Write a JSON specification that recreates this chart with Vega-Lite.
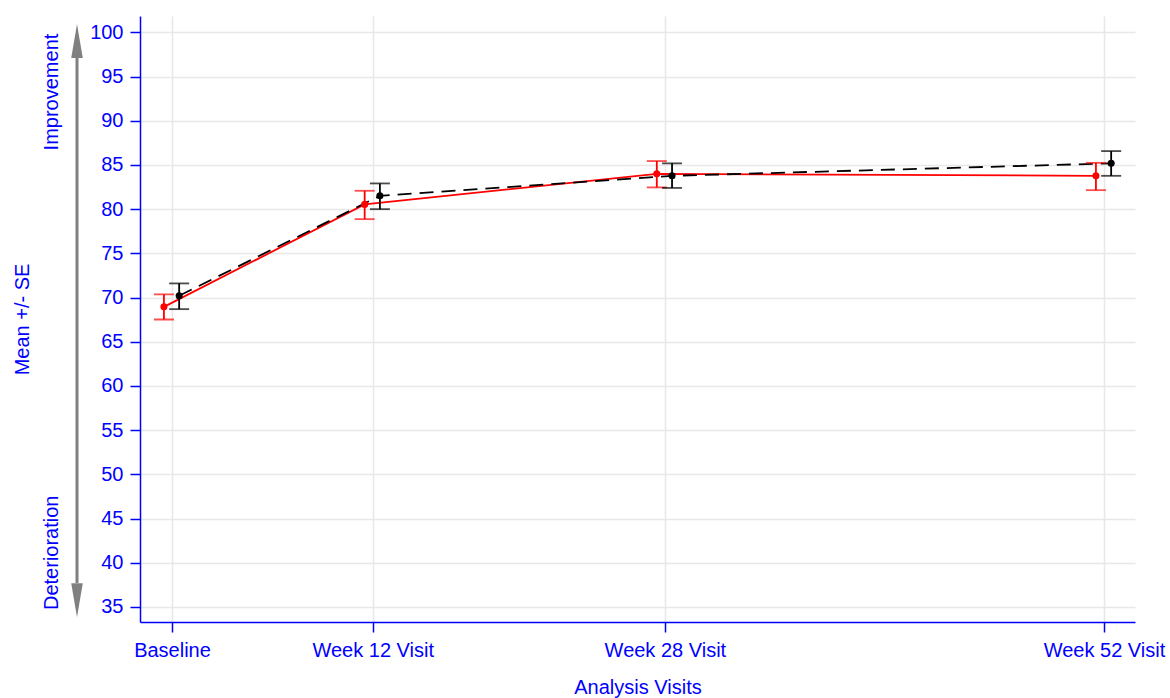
{
  "$schema": "https://vega.github.io/schema/vega-lite/v6.json",
  "width": 995,
  "height": 606,
  "autosize": {"type": "none"},
  "padding": {"left": 140, "top": 16, "right": 35, "bottom": 76},
  "background": "white",
  "config": {
    "view": {"stroke": null},
    "font": "Liberation Sans",
    "axis": {
      "domainColor": "#0000ff",
      "domainWidth": 1.5,
      "tickColor": "#0000ff",
      "tickWidth": 1.5,
      "tickSize": 10,
      "labelColor": "#0000ff",
      "labelFont": "Liberation Sans",
      "labelFontSize": 20,
      "titleColor": "#0000ff",
      "titleFont": "Liberation Sans",
      "titleFontSize": 20,
      "titleFontWeight": "normal",
      "gridColor": "#e8e8e8",
      "gridWidth": 1.5
    }
  },
  "datasets": {
    "stats": [
      {"group": "A", "visit": "Baseline", "x": -0.45, "mean": 68.95, "lo": 67.52, "hi": 70.35},
      {"group": "A", "visit": "Week 12 Visit", "x": 10.75, "mean": 80.54, "lo": 78.87, "hi": 82.08},
      {"group": "A", "visit": "Week 28 Visit", "x": 27.05, "mean": 84.0, "lo": 82.46, "hi": 85.44},
      {"group": "A", "visit": "Week 52 Visit", "x": 51.55, "mean": 83.77, "lo": 82.15, "hi": 85.24},
      {"group": "B", "visit": "Baseline", "x": 0.4, "mean": 70.2, "lo": 68.69, "hi": 71.6},
      {"group": "B", "visit": "Week 12 Visit", "x": 11.6, "mean": 81.51, "lo": 80.0, "hi": 82.91},
      {"group": "B", "visit": "Week 28 Visit", "x": 27.9, "mean": 83.77, "lo": 82.4, "hi": 85.18},
      {"group": "B", "visit": "Week 52 Visit", "x": 52.4, "mean": 85.18, "lo": 83.77, "hi": 86.57}
    ],
    "arrow": [{"x": -5.3, "y1": 37.7, "y2": 97.2}],
    "heads": [
      {"x": -5.3, "y": 99.02, "dir": "up"},
      {"x": -5.3, "y": 35.76, "dir": "down"}
    ],
    "notes": [
      {"x": -6.7, "y": 93.25, "text": "Improvement"},
      {"x": -6.7, "y": 41.13, "text": "Deterioration"}
    ]
  },
  "layer": [
    {
      "data": {"name": "stats"},
      "mark": {"type": "line", "strokeWidth": 1.8},
      "transform": [{"filter": "datum.group == 'A'"}],
      "encoding": {
        "x": {
          "field": "x", "type": "quantitative",
          "scale": {"domain": [-1.785, 53.73], "nice": false, "zero": false},
          "axis": {
            "title": "Analysis Visits",
            "values": [0, 11.2, 27.5, 52],
            "labelExpr": "datum.value == 0 ? 'Baseline' : datum.value == 52 ? 'Week 52 Visit' : datum.value < 20 ? 'Week 12 Visit' : 'Week 28 Visit'",
            "labelPadding": 8,
            "titlePadding": 17,
            "grid": true,
            "labelFlush": false
          }
        },
        "y": {
          "field": "mean", "type": "quantitative",
          "scale": {"domain": [33.3, 101.85], "nice": false, "zero": false},
          "axis": {
            "title": "Mean +/- SE",
            "values": [35, 40, 45, 50, 55, 60, 65, 70, 75, 80, 85, 90, 95, 100],
            "labelPadding": 7,
            "titlePadding": 57,
            "grid": true
          }
        },
        "color": {"value": "#ff0000"}
      }
    },
    {
      "data": {"name": "stats"},
      "mark": {"type": "line", "strokeWidth": 1.8, "strokeDash": [14, 8]},
      "transform": [{"filter": "datum.group == 'B'"}],
      "encoding": {
        "x": {"field": "x", "type": "quantitative", "scale": {"domain": [-1.785, 53.73], "nice": false, "zero": false}},
        "y": {"field": "mean", "type": "quantitative", "scale": {"domain": [33.3, 101.85], "nice": false, "zero": false}},
        "color": {"value": "#000000"}
      }
    },
    {
      "data": {"name": "stats"},
      "mark": {"type": "rule", "strokeWidth": 1.8},
      "encoding": {
        "x": {"field": "x", "type": "quantitative", "scale": {"domain": [-1.785, 53.73], "nice": false, "zero": false}},
        "y": {"field": "lo", "type": "quantitative", "scale": {"domain": [33.3, 101.85], "nice": false, "zero": false}},
        "y2": {"field": "hi"},
        "color": {"field": "group", "type": "nominal", "scale": {"domain": ["A", "B"], "range": ["#ff0000", "#000000"]}, "legend": null}
      }
    },
    {
      "data": {"name": "stats"},
      "mark": {"type": "tick", "orient": "horizontal", "size": 20, "thickness": 1.8},
      "encoding": {
        "x": {"field": "x", "type": "quantitative", "scale": {"domain": [-1.785, 53.73], "nice": false, "zero": false}},
        "y": {"field": "lo", "type": "quantitative", "scale": {"domain": [33.3, 101.85], "nice": false, "zero": false}},
        "color": {"field": "group", "type": "nominal", "scale": {"domain": ["A", "B"], "range": ["#ff0000", "#000000"]}, "legend": null}
      }
    },
    {
      "data": {"name": "stats"},
      "mark": {"type": "tick", "orient": "horizontal", "size": 20, "thickness": 1.8},
      "encoding": {
        "x": {"field": "x", "type": "quantitative", "scale": {"domain": [-1.785, 53.73], "nice": false, "zero": false}},
        "y": {"field": "hi", "type": "quantitative", "scale": {"domain": [33.3, 101.85], "nice": false, "zero": false}},
        "color": {"field": "group", "type": "nominal", "scale": {"domain": ["A", "B"], "range": ["#ff0000", "#000000"]}, "legend": null}
      }
    },
    {
      "data": {"name": "stats"},
      "mark": {"type": "circle", "size": 50, "opacity": 1},
      "encoding": {
        "x": {"field": "x", "type": "quantitative", "scale": {"domain": [-1.785, 53.73], "nice": false, "zero": false}},
        "y": {"field": "mean", "type": "quantitative", "scale": {"domain": [33.3, 101.85], "nice": false, "zero": false}},
        "color": {"field": "group", "type": "nominal", "scale": {"domain": ["A", "B"], "range": ["#ff0000", "#000000"]}, "legend": null}
      }
    },
    {
      "data": {"name": "arrow"},
      "mark": {"type": "rule", "strokeWidth": 3, "color": "#808080"},
      "encoding": {
        "x": {"field": "x", "type": "quantitative", "scale": {"domain": [-1.785, 53.73], "nice": false, "zero": false}},
        "y": {"field": "y1", "type": "quantitative", "scale": {"domain": [33.3, 101.85], "nice": false, "zero": false}},
        "y2": {"field": "y2"}
      }
    },
    {
      "data": {"name": "heads"},
      "mark": {"type": "point", "filled": true, "color": "#808080", "opacity": 1, "size": 1156, "strokeWidth": 0},
      "encoding": {
        "x": {"field": "x", "type": "quantitative", "scale": {"domain": [-1.785, 53.73], "nice": false, "zero": false}},
        "y": {"field": "y", "type": "quantitative", "scale": {"domain": [33.3, 101.85], "nice": false, "zero": false}},
        "shape": {
          "field": "dir", "type": "nominal",
          "scale": {"domain": ["up", "down"], "range": ["M0,-1L0.34,1L-0.34,1Z", "M0,1L0.34,-1L-0.34,-1Z"]},
          "legend": null
        }
      }
    },
    {
      "data": {"name": "notes"},
      "mark": {"type": "text", "angle": 270, "align": "center", "baseline": "middle", "fontSize": 20, "font": "Liberation Sans", "color": "#0000ff"},
      "encoding": {
        "x": {"field": "x", "type": "quantitative", "scale": {"domain": [-1.785, 53.73], "nice": false, "zero": false}},
        "y": {"field": "y", "type": "quantitative", "scale": {"domain": [33.3, 101.85], "nice": false, "zero": false}},
        "text": {"field": "text"}
      }
    }
  ]
}
